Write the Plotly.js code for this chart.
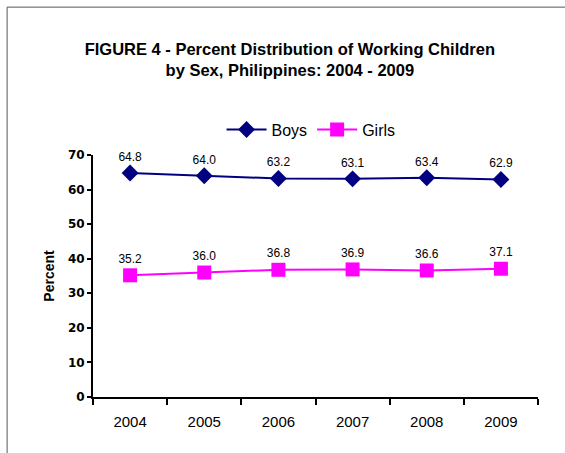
<!DOCTYPE html>
<html>
<head>
<meta charset="utf-8">
<script src="https://cdn.plot.ly/plotly-3.0.1.min.js"></script>
<style>
  body { margin: 0; background: #fff; }
  #chart { width: 565px; height: 453px; }
</style>
</head>
<body>
<div id="chart"></div>
<script>
const years = ["2004", "2005", "2006", "2007", "2008", "2009"];
const boys = [64.8, 64.0, 63.2, 63.1, 63.4, 62.9];
const girls = [35.2, 36.0, 36.8, 36.9, 36.6, 37.1];
const yTicks = [0, 10, 20, 30, 40, 50, 60, 70];

const fmt = (v) => v.toFixed(1);

const traceBoys = {
    x: years, y: boys, name: "Boys", mode: "lines+markers+text",
    line: { color: "#000080", width: 2 },
    marker: { symbol: "diamond", size: 13, color: "#000080" },
    text: boys.map(fmt), textposition: "top center",
    textfont: { family: "Liberation Sans, Arial", size: 12, color: "#000" },
    cliponaxis: false
};
const traceGirls = {
    x: years, y: girls, name: "Girls", mode: "lines+markers+text",
    line: { color: "#ff00ff", width: 2 },
    marker: { symbol: "square", size: 14, color: "#ff00ff" },
    text: girls.map(fmt), textposition: "top center",
    textfont: { family: "Liberation Sans, Arial", size: 12, color: "#000" },
    cliponaxis: false
};

const layout = {
    width: 565, height: 453,
    margin: { l: 93, r: 27, t: 155, b: 56 },
    paper_bgcolor: "#fff", plot_bgcolor: "#fff",
    font: { family: "Liberation Sans, Arial", color: "#000" },
    title: {
        text: "<b>FIGURE 4 - Percent Distribution of Working Children<br>by Sex, Philippines: 2004 - 2009</b>",
        font: { size: 16.5 }, x: 0.513, xanchor: "center", y: 0.879, yanchor: "middle"
    },
    showlegend: true,
    legend: {
        orientation: "h", x: 0.49, xanchor: "center", y: 1.105, yanchor: "middle",
        font: { size: 16 }, itemwidth: 40
    },
    xaxis: {
        type: "category", range: [-0.5, 5.5],
        showline: true, linecolor: "#000", linewidth: 2,
        ticks: "outside", tickson: "boundaries", ticklen: 6, tickwidth: 2, tickcolor: "#000",
        showgrid: false, zeroline: false,
        tickfont: { size: 15 }, ticklabelstandoff: 10
    },
    yaxis: {
        range: [0, 70], tickvals: yTicks,
        showline: true, linecolor: "#000", linewidth: 2,
        ticks: "outside", ticklen: 4, tickwidth: 2, tickcolor: "#000",
        showgrid: false, zeroline: false,
        tickfont: { size: 12, family: "DejaVu Sans", weight: "bold" },
        title: { text: "<b>Percent</b>", font: { size: 14 }, standoff: 10 }
    },
    shapes: [{
        type: "rect", xref: "paper", yref: "paper",
        x0: -0.193, x1: 1.2, y0: -0.4, y1: 1.611,
        line: { color: "#555", width: 1 }, fillcolor: "rgba(0,0,0,0)"
    }]
};

Plotly.newPlot("chart", [traceBoys, traceGirls], layout, { displayModeBar: false, staticPlot: true });
</script>
</body>
</html>
